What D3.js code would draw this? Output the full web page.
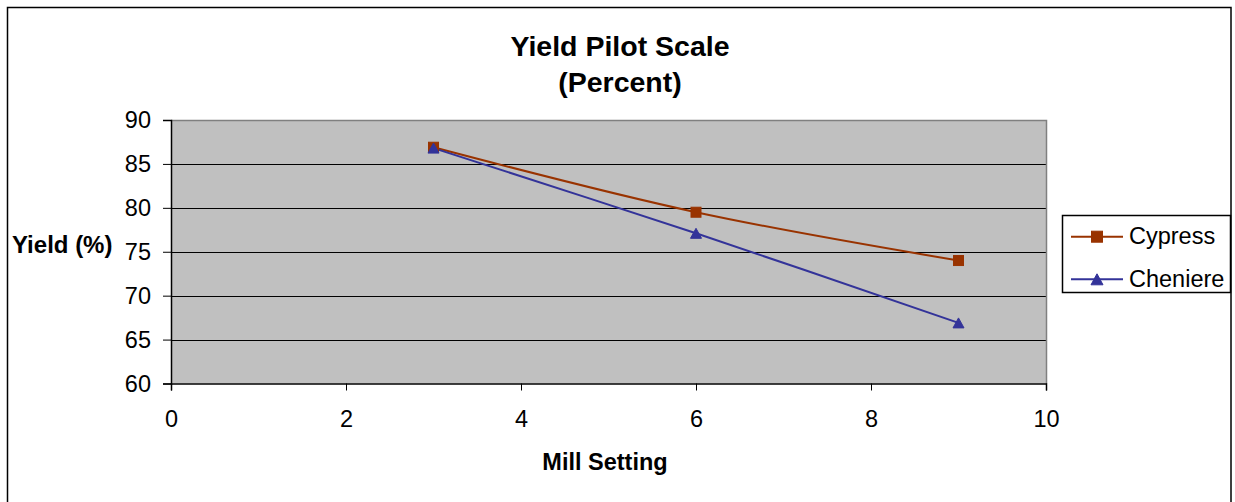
<!DOCTYPE html>
<html>
<head>
<meta charset="utf-8">
<script src="https://cdn.jsdelivr.net/npm/d3@7"></script>
<style>
  html, body { margin: 0; padding: 0; background: #fff; }
  svg { display: block; font-family: "Liberation Sans", Arial, sans-serif; }
</style>
</head>
<body>
<svg id="chart" width="1235" height="502"></svg>
<script>
// ---- data ----
const millSettings = [3, 6, 9];
const cypressYield = [86.9, 79.5, 74.0];
const cheniereYield = [86.8, 77.1, 66.9];
const seriesNames = ["Cypress", "Cheniere"];
const xTicks = [0, 2, 4, 6, 8, 10];
const yTicks = [60, 65, 70, 75, 80, 85, 90];
const titleLines = ["Yield Pilot Scale", "(Percent)"];
const xTitle = "Mill Setting";
const yTitle = "Yield (%)";

const colors = { Cypress: "#993300", Cheniere: "#333399" };
const series = [
  { name: seriesNames[0], values: cypressYield, marker: "square" },
  { name: seriesNames[1], values: cheniereYield, marker: "triangle" }
];

const svg = d3.select("#chart");
const plot = { left: 171, right: 1046, top: 120, bottom: 383.5 };
const x = d3.scaleLinear().domain([0, 10]).range([plot.left, plot.right]);
const y = d3.scaleLinear().domain([60, 90]).range([plot.bottom, plot.top]);

// outer border
svg.append("rect").attr("x", 7.5).attr("y", 7.5).attr("width", 1223.5).attr("height", 520)
  .attr("fill", "#fff").attr("stroke", "#000").attr("stroke-width", 1.5);

// plot background
svg.append("rect").attr("x", plot.left).attr("y", plot.top)
  .attr("width", plot.right - plot.left).attr("height", plot.bottom - plot.top)
  .attr("fill", "#C0C0C0");

// gridlines
svg.append("g").selectAll("line").data(yTicks.filter(d => d > 60 && d < 90)).join("line")
  .attr("x1", plot.left).attr("x2", plot.right)
  .attr("y1", d => Math.round(y(d)) + 0.5).attr("y2", d => Math.round(y(d)) + 0.5)
  .attr("stroke", "#000").attr("stroke-width", 1);

// top and right plot border (gray)
svg.append("path")
  .attr("d", `M${plot.left},${plot.top + 0.5}H${plot.right + 0.5}V${plot.bottom}`)
  .attr("fill", "none").attr("stroke", "#808080").attr("stroke-width", 1.5);

const fontSize = 23.5;

// y axis
const yAxis = svg.append("g").attr("transform", `translate(${plot.left},0)`)
  .call(d3.axisLeft(y).tickValues(yTicks).tickSize(8).tickPadding(12).tickFormat(d3.format("d")));
yAxis.select(".domain").attr("stroke", "#000").attr("stroke-width", 1.5);
yAxis.selectAll(".tick line").attr("stroke", "#000");
yAxis.selectAll("text").attr("font-size", fontSize).attr("fill", "#000")
  .attr("font-family", "Liberation Sans, Arial, sans-serif");

// x axis
const xAxis = svg.append("g").attr("transform", `translate(0,${plot.bottom})`)
  .call(d3.axisBottom(x).tickValues(xTicks).tickSize(7).tickPadding(20).tickFormat(d3.format("d")));
xAxis.select(".domain").attr("stroke", "#000").attr("stroke-width", 1.5);
xAxis.selectAll(".tick line").attr("stroke", "#000");
xAxis.selectAll("text").attr("font-size", fontSize).attr("fill", "#000")
  .attr("font-family", "Liberation Sans, Arial, sans-serif");

// lines
const line = d3.line().x((d, i) => x(millSettings[i])).y(d => y(d)).curve(d3.curveCatmullRom.alpha(0.5));
series.forEach(s => {
  svg.append("path").datum(s.values).attr("d", line)
    .attr("fill", "none").attr("stroke", colors[s.name]).attr("stroke-width", 2);
});

function drawMarker(g, type, cx, cy, size, color) {
  if (type === "square") {
    g.append("rect").attr("x", cx - size / 2).attr("y", cy - size / 2)
      .attr("width", size).attr("height", size)
      .attr("fill", color).attr("stroke", color).attr("stroke-width", 1);
  } else {
    const h = size, w = size + 1;
    g.append("path")
      .attr("d", `M${cx},${cy - h / 2}L${cx + w / 2},${cy + h / 2}L${cx - w / 2},${cy + h / 2}Z`)
      .attr("fill", color).attr("stroke", color).attr("stroke-width", 1);
  }
}

const markers = svg.append("g");
series.forEach(s => {
  s.values.forEach((v, i) => drawMarker(markers, s.marker, x(millSettings[i]), y(v), 10, colors[s.name]));
});

// titles
svg.append("text").attr("x", 620).attr("y", 56).attr("text-anchor", "middle")
  .attr("font-size", 28.5).attr("font-weight", "bold").text(titleLines[0]);
svg.append("text").attr("x", 620).attr("y", 92).attr("text-anchor", "middle")
  .attr("font-size", 28.5).attr("font-weight", "bold").text(titleLines[1]);
svg.append("text").attr("x", 12).attr("y", 253).attr("font-size", 24)
  .attr("font-weight", "bold").text(yTitle);
svg.append("text").attr("x", 605).attr("y", 470).attr("text-anchor", "middle")
  .attr("font-size", fontSize).attr("font-weight", "bold").text(xTitle);

// legend
const lg = svg.append("g");
lg.append("rect").attr("x", 1062.5).attr("y", 215.5).attr("width", 168).attr("height", 77)
  .attr("fill", "#fff").attr("stroke", "#000").attr("stroke-width", 1.5);
const legendRows = [236.7, 279.3];
series.forEach((s, i) => {
  const ly = legendRows[i];
  lg.append("line").attr("x1", 1071).attr("x2", 1123).attr("y1", ly).attr("y2", ly)
    .attr("stroke", colors[s.name]).attr("stroke-width", 2);
  drawMarker(lg, s.marker, 1097, ly, 11, colors[s.name]);
  lg.append("text").attr("x", 1129).attr("y", ly + 7.5).attr("font-size", fontSize).text(s.name);
});
</script>
</body>
</html>
